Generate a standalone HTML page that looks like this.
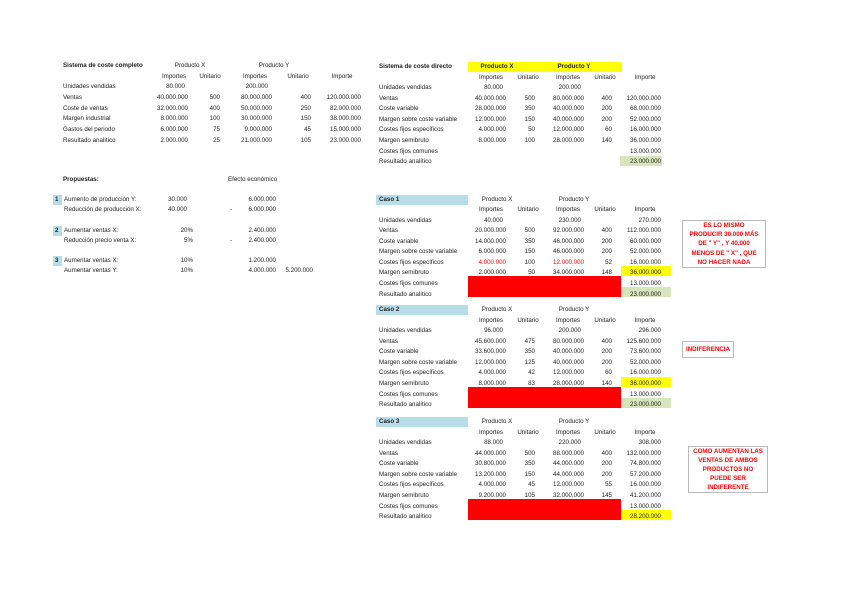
<!DOCTYPE html>
<html><head><meta charset="utf-8">
<style>
html,body{margin:0;padding:0;background:#fff;}
#p{position:relative;width:848px;height:599px;overflow:hidden;font-family:"Liberation Sans",sans-serif;font-size:6.2px;color:#222;}
.t{position:absolute;height:10px;line-height:10px;white-space:nowrap;}
.b{position:absolute;}
.note{position:absolute;border:1px solid #bbb;box-sizing:border-box;color:#f00;font-weight:bold;font-size:6.2px;text-align:center;line-height:9.2px;display:flex;align-items:center;justify-content:center;}
</style></head><body><div id="p">
<div class="b" style="left:468px;top:62px;width:154px;height:10px;background:#ffff00"></div>
<div class="b" style="left:620px;top:156px;width:42px;height:10px;background:#d8e4bc"></div>
<div class="b" style="left:376px;top:195px;width:92px;height:10px;background:#b7dde8"></div>
<div class="b" style="left:376px;top:305px;width:92px;height:10px;background:#b7dde8"></div>
<div class="b" style="left:376px;top:417px;width:92px;height:10px;background:#b7dde8"></div>
<div class="b" style="left:468px;top:276px;width:153px;height:21px;background:#ff0000"></div>
<div class="b" style="left:468px;top:387px;width:153px;height:21px;background:#ff0000"></div>
<div class="b" style="left:468px;top:499px;width:153px;height:21px;background:#ff0000"></div>
<div class="b" style="left:621px;top:266px;width:50px;height:10px;background:#ffff00"></div>
<div class="b" style="left:621px;top:287px;width:50px;height:10px;background:#d8e4bc"></div>
<div class="b" style="left:621px;top:377px;width:50px;height:10px;background:#ffff00"></div>
<div class="b" style="left:621px;top:398px;width:50px;height:10px;background:#d8e4bc"></div>
<div class="b" style="left:621px;top:510px;width:50px;height:10px;background:#ffff00"></div>
<div class="b" style="left:53px;top:195px;width:9px;height:10px;background:#b7dde8"></div>
<div class="b" style="left:53px;top:226px;width:9px;height:10px;background:#b7dde8"></div>
<div class="b" style="left:53px;top:256px;width:9px;height:10px;background:#b7dde8"></div>
<div class="note" style="left:682px;top:220px;width:84px;height:48px;">ES LO MISMO<br>PRODUCIR 30.000 MÁS<br>DE " Y" , Y 40.000<br>MENOS DE " X" , QUE<br>NO HACER NADA</div>
<div class="note" style="left:682px;top:341px;width:52px;height:17px;">INDIFERENCIA</div>
<div class="note" style="left:688px;top:446px;width:80px;height:47px;">COMO AUMENTAN LAS<br>VENTAS DE AMBOS<br>PRODUCTOS NO<br>PUEDE SER<br>INDIFERENTE</div>
</div>
<script>
var P=document.getElementById('p');
function t(x,y,s,a,st){var d=document.createElement('div');d.className='t';d.textContent=s;
if(a==='r'){d.style.right=(848-x)+'px';}else if(a==='c'){d.style.left=(x-50)+'px';d.style.width='100px';d.style.textAlign='center';}else d.style.left=x+'px';
d.style.top=(y-5)+'px';if(st)d.style.cssText+=st;P.appendChild(d);}
var B='font-weight:bold;';
// left table
t(63,66,'Sistema de coste completo','l',B);
t(190,66,'Producto X','c');t(274,66,'Producto Y','c');
var lc=[188,220,272,311,361];
t(174,77,'Importes','c');t(210,77,'Unitario','c');t(255,77,'Importes','c');t(298,77,'Unitario','c');t(342,77,'Importe','c');
var L=[['Unidades vendidas','80.000','','200.000','',''],
['Ventas','40.000.000','500','80.000.000','400','120.000.000'],
['Coste de ventas','32.000.000','400','50.000.000','250','82.000.000'],
['Margen industrial','8.000.000','100','30.000.000','150','38.000.000'],
['Gastos del periodo','6.000.000','75','9.000.000','45','15.000.000'],
['Resultado analítico','2.000.000','25','21.000.000','105','23.000.000']];
L.forEach(function(r,i){var y=87+i*10.8;t(63,y,r[0]);
if(i==0){t(185,y,r[1],'r');t(268,y,r[3],'r');}else for(var k=1;k<6;k++)t(lc[k-1],y,r[k],'r');});
// propuestas
t(63,180,'Propuestas:','l',B);t(228,180,'Efecto económico');
t(55,200,'1','l',B);t(55,231,'2','l',B);t(55,261,'3','l',B);
t(64,200,'Aumento de producción Y:');t(187,200,'30.000','r');t(276,200,'6.000.000','r');
t(64,210,'Reducción de producción X:');t(187,210,'40.000','r');t(230,210,'-');t(276,210,'6.000.000','r');
t(64,231,'Aumentar ventas X:');t(193,231,'20%','r');t(276,231,'2.400.000','r');
t(64,241,'Reducción precio venta X:');t(193,241,'5%','r');t(230,241,'-');t(276,241,'2.400.000','r');
t(64,261,'Aumentar ventas X:');t(193,261,'10%','r');t(276,261,'1.200.000','r');
t(64,271,'Aumentar ventas Y:');t(193,271,'10%','r');t(276,271,'4.000.000','r');t(313,271,'5.200.000','r');
// right tables
var rc=[506,535,584,612,661];
function tbl(y0,title,head,rows,cu,specialRed){
t(379,y0,title,'l',B);
t(497,y0,'Producto X','c',head?B:'');t(574,y0,'Producto Y','c',head?B:'');
var ys=y0+10.5;
t(491,ys,'Importes','c');t(528,ys,'Unitario','c');t(568,ys,'Importes','c');t(605,ys,'Unitario','c');t(645,ys,'Importe','c');
rows.forEach(function(r,i){var y=ys+10.5*(i+1)+(i>=6?0.5:0);t(379,y,r[0]);
if(i==0){t(503,y,r[1],'r');t(581,y,r[3],'r');if(r[5])t(rc[4],y,r[5],'r');}
else for(var k=1;k<6;k++){if(r[k]){var st='';if(specialRed&&i==4&&(k==1||k==3))st='color:#f00;';t(rc[k-1],y,r[k],'r',st);}}});
}
var lab=['Unidades vendidas','Ventas','Coste variable','Margen sobre coste variable','Costes fijos específicos','Margen semibruto','Costes fijos comunes','Resultado analítico'];
function R(a){return a.map(function(r,i){return [lab[i]].concat(r);});}
tbl(67,'Sistema de coste directo',true,R([
['80.000','','200.000','',''],['40.000.000','500','80.000.000','400','120.000.000'],['28.000.000','350','40.000.000','200','68.000.000'],['12.000.000','150','40.000.000','200','52.000.000'],['4.000.000','50','12.000.000','60','16.000.000'],['8.000.000','100','28.000.000','140','36.000.000'],['','','','','13.000.000'],['','','','','23.000.000']]));
tbl(199.5,'Caso 1',false,R([
['40.000','','230.000','','270.000'],['20.000.000','500','92.000.000','400','112.000.000'],['14.000.000','350','46.000.000','200','60.000.000'],['6.000.000','150','46.000.000','200','52.000.000'],['4.000.000','100','12.000.000','52','16.000.000'],['2.000.000','50','34.000.000','148','36.000.000'],['','','','','13.000.000'],['','','','','23.000.000']]),0,true);
tbl(310,'Caso 2',false,R([
['96.000','','200.000','','296.000'],['45.600.000','475','80.000.000','400','125.600.000'],['33.600.000','350','40.000.000','200','73.600.000'],['12.000.000','125','40.000.000','200','52.000.000'],['4.000.000','42','12.000.000','60','16.000.000'],['8.000.000','83','28.000.000','140','36.000.000'],['','','','','13.000.000'],['','','','','23.000.000']]));
tbl(422,'Caso 3',false,R([
['88.000','','220.000','','308.000'],['44.000.000','500','88.000.000','400','132.000.000'],['30.800.000','350','44.000.000','200','74.800.000'],['13.200.000','150','44.000.000','200','57.200.000'],['4.000.000','45','12.000.000','55','16.000.000'],['9.200.000','105','32.000.000','145','41.200.000'],['','','','','13.000.000'],['','','','','28.200.000']]));
</script>
</body></html>
